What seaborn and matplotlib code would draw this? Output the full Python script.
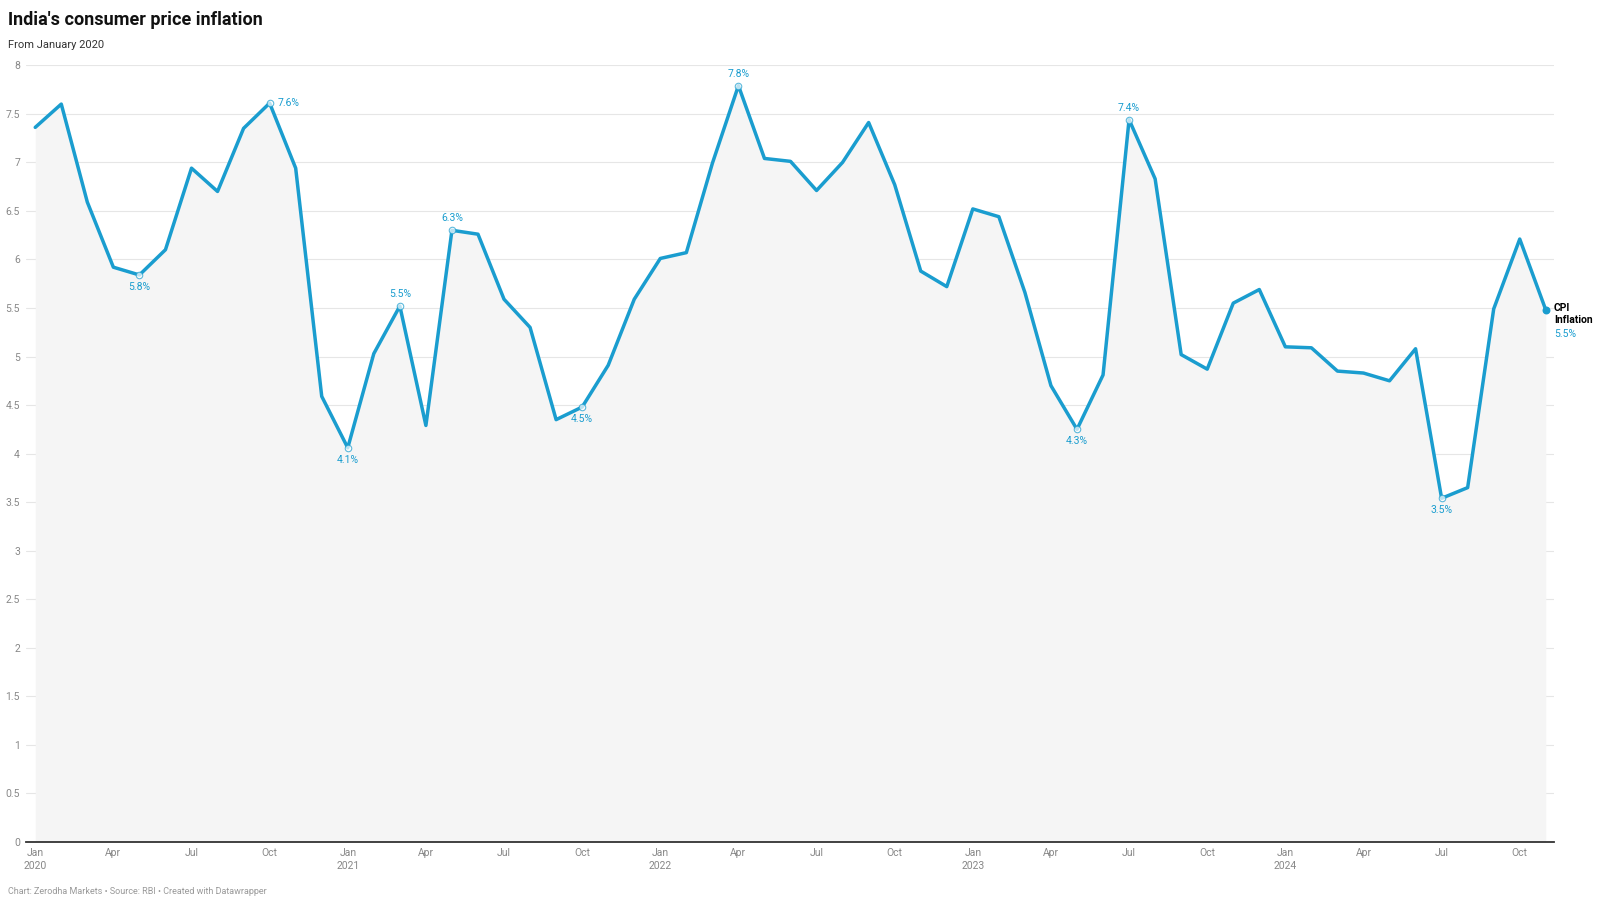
import pandas as pd
import matplotlib.pyplot as plt
import seaborn as sns

# Monthly CPI inflation, Jan 2020 - Nov 2024
months = pd.date_range("2020-01-01", "2024-11-01", freq="MS")
cpi = [
    7.36, 7.60, 6.59, 5.92, 5.84, 6.10, 6.94, 6.70, 7.35, 7.61, 6.94, 4.59,
    4.06, 5.03, 5.52, 4.29, 6.30, 6.26, 5.59, 5.30, 4.35, 4.48, 4.91, 5.59,
    6.01, 6.07, 6.99, 7.79, 7.04, 7.01, 6.71, 7.00, 7.41, 6.77, 5.88, 5.72,
    6.52, 6.44, 5.66, 4.70, 4.25, 4.81, 7.44, 6.83, 5.02, 4.87, 5.55, 5.69,
    5.10, 5.09, 4.85, 4.83, 4.75, 5.08, 3.54, 3.65, 5.49, 6.21, 5.48,
]
# labelled points: (month index, text, placement)
labels = [
    (9, "7.6%", "right"), (4, "5.8%", "below"), (12, "4.1%", "below"),
    (14, "5.5%", "above"), (16, "6.3%", "above"), (21, "4.5%", "below"),
    (27, "7.8%", "above"), (40, "4.3%", "below"), (42, "7.4%", "above"),
    (54, "3.5%", "below"),
]
yticks = [0, 0.5, 1, 1.5, 2, 2.5, 3, 3.5, 4, 4.5, 5, 5.5, 6, 6.5, 7, 7.5, 8]

df = pd.DataFrame({"idx": range(len(cpi)), "cpi": cpi})
blue = "#1a9dcf"
grey = "#888888"

sns.set_style("white")
plt.rcParams["font.family"] = ["Roboto", "DejaVu Sans"]

fig = plt.figure(figsize=(16, 9.06), dpi=100)
ax = fig.add_axes([0.016, 0.0706, 0.955, 0.8574])

ax.fill_between(df["idx"], df["cpi"], 0, color="#f5f5f5", zorder=1, lw=0)
sns.lineplot(data=df, x="idx", y="cpi", color=blue, lw=2.5, ax=ax, zorder=3)

for i, txt, pos in labels:
    ax.scatter(i, cpi[i], s=22, facecolor="white", edgecolor=blue, lw=0.8, zorder=4, alpha=0.7)
    if pos == "right":
        off, ha, va = (6, 0), "left", "center"
    elif pos == "above":
        off, ha, va = (0, 5), "center", "bottom"
    else:
        off, ha, va = (0, -5), "center", "top"
    ax.annotate(txt, (i, cpi[i]), xytext=off, textcoords="offset points",
                ha=ha, va=va, fontsize=7.5, color=blue)

# end label
last = len(cpi) - 1
ax.scatter(last, cpi[last], s=22, color=blue, zorder=5)
ax.annotate("CPI\nInflation", (last, cpi[last]), xytext=(6, 5), textcoords="offset points",
            ha="left", va="top", fontsize=7.5, fontweight="bold", color="black",
            linespacing=1.3)
ax.annotate("5.5%", (last, cpi[last]), xytext=(6, -17), textcoords="offset points",
            ha="left", va="center", fontsize=7.5, color=blue)

ax.set_xlim(-0.37, 58.3)
ax.set_ylim(0, 8)
ax.set_yticks(yticks)
ax.set_yticklabels([f"{t:g}" for t in yticks], fontsize=7.5, color=grey)
ax.yaxis.grid(True, color="#e6e6e6", lw=0.8, zorder=0)
ax.set_axisbelow(True)

xt = list(range(0, len(cpi), 3))
xl = []
for i in xt:
    m = months[i]
    xl.append(f"Jan\n{m.year}" if m.month == 1 else m.strftime("%b"))
ax.set_xticks(xt)
ax.set_xticklabels(xl, fontsize=7.5, color=grey, linespacing=1.4)
ax.tick_params(axis="both", length=0, pad=4)
ax.set_xlabel("")
ax.set_ylabel("")
sns.despine(ax=ax, left=True, right=True, top=True)
ax.spines["bottom"].set_color("#333333")
ax.spines["bottom"].set_linewidth(1.3)
ax.spines["bottom"].set_zorder(6)

fig.text(0.005, 0.978, "India's consumer price inflation", fontsize=13, fontweight="bold",
         ha="left", va="center", color="#111111")
fig.text(0.005, 0.950, "From January 2020", fontsize=8, ha="left", va="center", color="#333333")
fig.text(0.005, 0.016, "Chart: Zerodha Markets • Source: RBI • Created with Datawrapper",
         fontsize=6.5, ha="left", va="center", color="#999999")

plt.savefig("out.png", dpi=100)
